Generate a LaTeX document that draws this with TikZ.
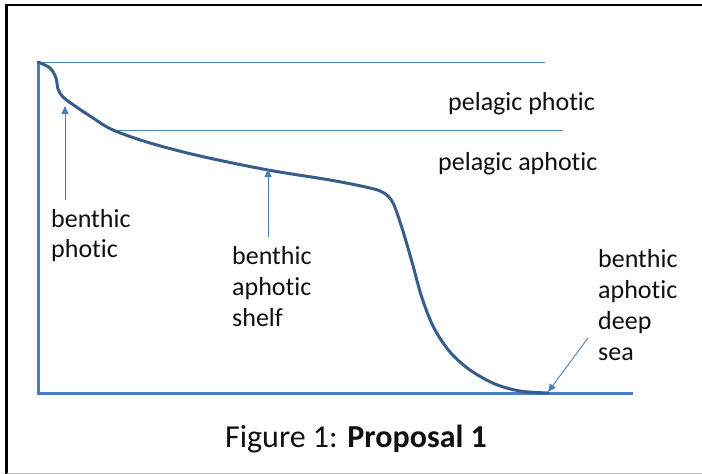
\documentclass[tikz,border=0pt]{standalone}
\usepackage{fontspec}
\setmainfont{Carlito}[Ligatures={NoCommon,NoContextual}]
\usetikzlibrary{arrows.meta}
\definecolor{axisblue}{HTML}{4A7EBB}
\definecolor{thinblue}{HTML}{4F81BD}
\definecolor{curveblue}{HTML}{385D8A}
\definecolor{textblack}{HTML}{101010}
\begin{document}
\begin{tikzpicture}[x=1pt,y=-1pt,
  lbl/.style={anchor=base west,inner sep=0pt,text=textblack,font=\fontsize{26}{31}\selectfont},
  axisline/.style={draw=axisblue,line width=3pt},
  zoneline/.style={draw=thinblue,line width=1pt},
  pointer/.style={draw=axisblue,line width=0.9pt,-{Triangle[width=7pt,length=8pt]}}]
\useasboundingbox (0,0) rectangle (702,474);
\fill[white] (0,0) rectangle (702,474);
% frame
\draw[black,line width=2.4pt] (6.5,474) -- (6.5,5) -- (702,5);
\draw[black!25,line width=1pt] (6.5,473.5) -- (702,473.5);
% zone lines
\coordinate (z1a) at (38,62);
\coordinate (z1b) at (545,62);
\coordinate (z2a) at (113,130);
\coordinate (z2b) at (563,130);
\draw[zoneline] (z1a) -- (z1b);
\draw[zoneline] (z2a) -- (z2b);
% axes
\coordinate (top) at (38,62);
\coordinate (origin) at (38,393);
\coordinate (xend) at (633,393);
\draw[axisline] (top) -- (origin) -- (xend);
% profile curve
\draw[curveblue,line width=3pt,line join=round,line cap=round]
  plot[smooth,tension=0.55] coordinates {(38,62) (50,68) (56,78) (58,89) (63,97) (75,106) (93,118) (113,130) (150,143) (200,156) (268,170) (330,180) (370,188) (384,193) (393,203) (402,228) (412,262) (422,298) (434,328) (450,352) (470,370) (495,384) (520,391) (548,393)};
% labels
\node[lbl] (pp) at (448,110) {pelagic photic};
\node[lbl] (pa) at (438,170) {pelagic aphotic};
\node[lbl] (bp1) at (51,227) {benthic};
\node[lbl] (bp2) at (51,257) {photic};
\node[lbl] (bs1) at (232,264) {benthic};
\node[lbl] (bs2) at (232,295) {aphotic};
\node[lbl] (bs3) at (232,326) {shelf};
\node[lbl] (bd1) at (598,267) {benthic};
\node[lbl] (bd2) at (598,298) {aphotic};
\node[lbl] (bd3) at (598,329) {deep};
\node[lbl] (bd4) at (598,360) {sea};
% pointers
\coordinate (p1s) at (65,200);
\coordinate (p1e) at (65,106);
\coordinate (p2s) at (268,237);
\coordinate (p2e) at (268,169);
\coordinate (p3s) at (588,338);
\coordinate (p3e) at (548,392);
\draw[pointer] (p1s) -- (p1e);
\draw[pointer] (p2s) -- (p2e);
\draw[pointer] (p3s) -- (p3e);
% caption
\node[anchor=base,inner sep=0pt,text=textblack,font=\fontsize{32}{38}\selectfont] (cap) at (356,447) {Figure 1: \textbf{Proposal 1}};
\end{tikzpicture}
\end{document}
